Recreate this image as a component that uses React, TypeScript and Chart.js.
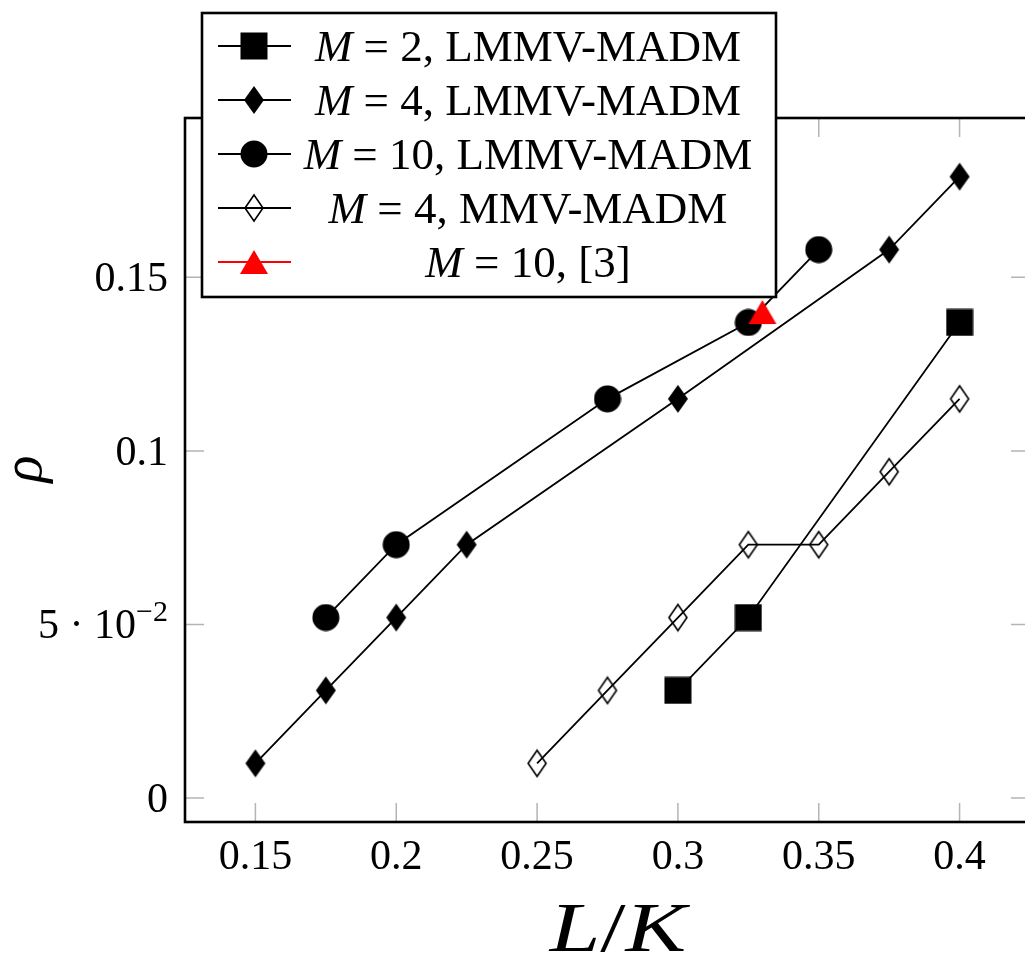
import React, { useEffect, useRef } from "react";
import { Chart, registerables } from "chart.js";

Chart.register(...registerables);

// ---------------- data ----------------
const m2LmmvX = [0.3, 0.325, 0.4];
const m2LmmvY = [0.031, 0.052, 0.137];
const m4LmmvX = [0.15, 0.175, 0.2, 0.225, 0.3, 0.375, 0.4];
const m4LmmvY = [0.01, 0.031, 0.052, 0.073, 0.115, 0.158, 0.179];
const m10LmmvX = [0.175, 0.2, 0.275, 0.325, 0.35];
const m10LmmvY = [0.052, 0.073, 0.115, 0.137, 0.158];
const m4MmvX = [0.25, 0.275, 0.3, 0.325, 0.35, 0.375, 0.4];
const m4MmvY = [0.01, 0.031, 0.052, 0.073, 0.073, 0.094, 0.115];
const m10RefX = [0.33];
const m10RefY = [0.14];

const seriesLabels = [
  "M = 2, LMMV-MADM",
  "M = 4, LMMV-MADM",
  "M = 10, LMMV-MADM",
  "M = 4, MMV-MADM",
  "M = 10, [3]",
];

const xTicks = [0.15, 0.2, 0.25, 0.3, 0.35, 0.4];
const xTickLabels = ["0.15", "0.2", "0.25", "0.3", "0.35", "0.4"];
const yTicks = [0, 0.05, 0.1, 0.15];
const yTickLabels = ["0", "5 \u00B7 10^\u22122", "0.1", "0.15"];

const X_MIN = 0.125;
const X_MAX = 0.425;
const Y_MIN = -0.0069;
const Y_MAX = 0.1959;

const SERIF = '"Liberation Serif", "DejaVu Serif", serif';

// ---------------- marker images ----------------
function makeCanvas(w: number, h: number, draw: (c: CanvasRenderingContext2D) => void) {
  const cv = document.createElement("canvas");
  cv.width = w;
  cv.height = h;
  const c = cv.getContext("2d")!;
  draw(c);
  return cv;
}

function buildMarkers() {
  const square = makeCanvas(28, 28, (c) => {
    c.fillStyle = "#000";
    c.fillRect(0.5, 0.5, 27, 27);
  });
  const circle = makeCanvas(28, 28, (c) => {
    c.fillStyle = "#000";
    c.beginPath();
    c.arc(14, 14, 13.5, 0, Math.PI * 2);
    c.fill();
  });
  const diamond = makeCanvas(22, 30, (c) => {
    c.fillStyle = "#000";
    c.beginPath();
    c.moveTo(11, 1);
    c.lineTo(21, 15);
    c.lineTo(11, 29);
    c.lineTo(1, 15);
    c.closePath();
    c.fill();
  });
  const openDiamond = makeCanvas(22, 30, (c) => {
    c.strokeStyle = "#000";
    c.lineWidth = 1.6;
    c.beginPath();
    c.moveTo(11, 2);
    c.lineTo(20, 15);
    c.lineTo(11, 28);
    c.lineTo(2, 15);
    c.closePath();
    c.stroke();
  });
  const triangle = makeCanvas(30, 26, (c) => {
    c.fillStyle = "#ff0000";
    c.beginPath();
    c.moveTo(15, 1);
    c.lineTo(29, 25);
    c.lineTo(1, 25);
    c.closePath();
    c.fill();
  });
  return { square, circle, diamond, openDiamond, triangle };
}

// ---------------- text helper ----------------
type Part = { t: string; font: string; dy?: number };

function drawParts(
  ctx: CanvasRenderingContext2D,
  parts: Part[],
  x: number,
  y: number,
  align: "left" | "center" | "right",
  sx: number
) {
  ctx.save();
  let total = 0;
  const widths = parts.map((p) => {
    ctx.font = p.font;
    const w = ctx.measureText(p.t).width;
    total += w;
    return w;
  });
  const start = align === "left" ? x : align === "center" ? x - (total * sx) / 2 : x - total * sx;
  ctx.translate(start, y);
  ctx.scale(sx, 1);
  ctx.textAlign = "left";
  ctx.textBaseline = "alphabetic";
  ctx.fillStyle = "#000";
  let cx = 0;
  parts.forEach((p, i) => {
    ctx.font = p.font;
    ctx.fillText(p.t, cx, p.dy || 0);
    cx += widths[i];
  });
  ctx.restore();
}

const pts = (xs: number[], ys: number[]) => xs.map((x, i) => ({ x, y: ys[i] }));

export default function App() {
  const ref = useRef<HTMLCanvasElement | null>(null);

  useEffect(() => {
    const canvas = ref.current;
    if (!canvas) return;
    const mk = buildMarkers();
    const legendMarkers = [mk.square, mk.diamond, mk.circle, mk.openDiamond, mk.triangle];
    const legendColors = ["#000", "#000", "#000", "#000", "#ff0000"];

    const tickFont = `42px ${SERIF}`;
    const supFont = `30px ${SERIF}`;
    const legFont = `45px ${SERIF}`;
    const legItalic = `italic 45px ${SERIF}`;

    const decorPlugin = {
      id: "decor",
      afterDraw(chart: any) {
        const ctx: CanvasRenderingContext2D = chart.ctx;
        const xs = chart.scales.x;
        const ys = chart.scales.y;
        const a = chart.chartArea;

        // tick marks (gray, inward, mirrored)
        ctx.save();
        ctx.strokeStyle = "#b4b4b4";
        ctx.lineWidth = 1.5;
        const TL = 19;
        xTicks.forEach((v) => {
          const px = xs.getPixelForValue(v);
          ctx.beginPath();
          ctx.moveTo(px, a.bottom);
          ctx.lineTo(px, a.bottom - TL);
          ctx.moveTo(px, a.top);
          ctx.lineTo(px, a.top + TL);
          ctx.stroke();
        });
        yTicks.forEach((v) => {
          const py = ys.getPixelForValue(v);
          ctx.beginPath();
          ctx.moveTo(a.left, py);
          ctx.lineTo(a.left + TL, py);
          ctx.moveTo(a.right, py);
          ctx.lineTo(a.right - TL, py);
          ctx.stroke();
        });
        ctx.restore();

        // frame
        ctx.save();
        ctx.strokeStyle = "#000";
        ctx.lineWidth = 2.6;
        ctx.strokeRect(a.left, a.top, a.right - a.left, a.bottom - a.top);
        ctx.restore();

        // x tick labels
        xTicks.forEach((v, i) => {
          const px = xs.getPixelForValue(v);
          drawParts(ctx, [{ t: xTickLabels[i], font: tickFont }], px, 869, "center", 1.0);
        });
        // y tick labels
        yTicks.forEach((v, i) => {
          const py = ys.getPixelForValue(v);
          const lab = yTickLabels[i];
          const parts: Part[] = [];
          if (lab.includes("^")) {
            const [b, s] = lab.split("^");
            parts.push({ t: b, font: tickFont });
            parts.push({ t: s, font: supFont, dy: -17 });
          } else {
            parts.push({ t: lab, font: tickFont });
          }
          drawParts(ctx, parts, 168, py + 14, "right", 1.0);
        });

        // axis titles
        drawParts(
          ctx,
          [
            { t: "L", font: `italic 70px ${SERIF}` },
            { t: "/", font: `70px ${SERIF}` },
            { t: "K", font: `italic 70px ${SERIF}` },
          ],
          618,
          951,
          "center",
          1.3
        );
        ctx.save();
        ctx.translate(41, 469);
        ctx.rotate(-Math.PI / 2);
        ctx.font = `italic 56px ${SERIF}`;
        ctx.fillStyle = "#000";
        ctx.textAlign = "center";
        ctx.textBaseline = "alphabetic";
        ctx.fillText("\u03C1", 0, 0);
        ctx.restore();

        // legend
        const bx = 202, by = 13, bw = 574, bh = 284;
        ctx.save();
        ctx.fillStyle = "#fff";
        ctx.fillRect(bx, by, bw, bh);
        ctx.strokeStyle = "#000";
        ctx.lineWidth = 2.6;
        ctx.strokeRect(bx, by, bw, bh);
        ctx.restore();
        const rowY = [46, 100, 154, 208, 262];
        seriesLabels.forEach((lab, i) => {
          const cy = rowY[i];
          ctx.save();
          ctx.strokeStyle = legendColors[i];
          ctx.lineWidth = 2;
          ctx.beginPath();
          ctx.moveTo(218, cy);
          ctx.lineTo(291, cy);
          ctx.stroke();
          const m = legendMarkers[i];
          ctx.drawImage(m, 254 - m.width / 2, cy - m.height / 2);
          ctx.restore();
          const parts: Part[] =
            lab[0] === "M"
              ? [
                  { t: "M", font: legItalic },
                  { t: lab.slice(1), font: legFont },
                ]
              : [{ t: lab, font: legFont }];
          drawParts(ctx, parts, 528, cy + 15, "center", 1.0);
        });
      },
    };

    const common = {
      borderColor: "#000",
      backgroundColor: "#000",
      borderWidth: 1.8,
      showLine: true,
      tension: 0,
      fill: false,
      pointRadius: 14,
      pointHoverRadius: 14,
    };

    const chart = new Chart(canvas, {
      type: "scatter",
      data: {
        datasets: [
          { ...common, label: seriesLabels[4], data: pts(m10RefX, m10RefY), showLine: false, pointStyle: mk.triangle as any, borderColor: "#ff0000", backgroundColor: "#ff0000" },
          { ...common, label: seriesLabels[0], data: pts(m2LmmvX, m2LmmvY), pointStyle: mk.square as any },
          { ...common, label: seriesLabels[1], data: pts(m4LmmvX, m4LmmvY), pointStyle: mk.diamond as any },
          { ...common, label: seriesLabels[2], data: pts(m10LmmvX, m10LmmvY), pointStyle: mk.circle as any },
          { ...common, label: seriesLabels[3], data: pts(m4MmvX, m4MmvY), pointStyle: mk.openDiamond as any },
        ] as any,
      },
      options: {
        animation: false,
        responsive: false,
        devicePixelRatio: 1,
        layout: { autoPadding: false, padding: { left: 185, top: 118, right: 10, bottom: 141 } },
        plugins: {
          legend: { display: false },
          tooltip: { enabled: false },
        },
        scales: {
          x: {
            type: "linear",
            min: X_MIN,
            max: X_MAX,
            ticks: { display: false },
            grid: { display: false, drawTicks: false },
            border: { display: false },
            afterFit: (s: any) => {
              s.height = 0;
            },
          },
          y: {
            type: "linear",
            min: Y_MIN,
            max: Y_MAX,
            ticks: { display: false },
            grid: { display: false, drawTicks: false },
            border: { display: false },
            afterFit: (s: any) => {
              s.width = 0;
            },
          },
        },
      } as any,
      plugins: [decorPlugin],
    });

    return () => chart.destroy();
  }, []);

  return (
    <div
      style={{
        position: "fixed",
        left: 0,
        top: 0,
        width: 1025,
        height: 963,
        overflow: "hidden",
        background: "#fff",
      }}
    >
      <canvas ref={ref} width={1040} height={963} style={{ width: 1040, height: 963, display: "block" }} />
    </div>
  );
}
